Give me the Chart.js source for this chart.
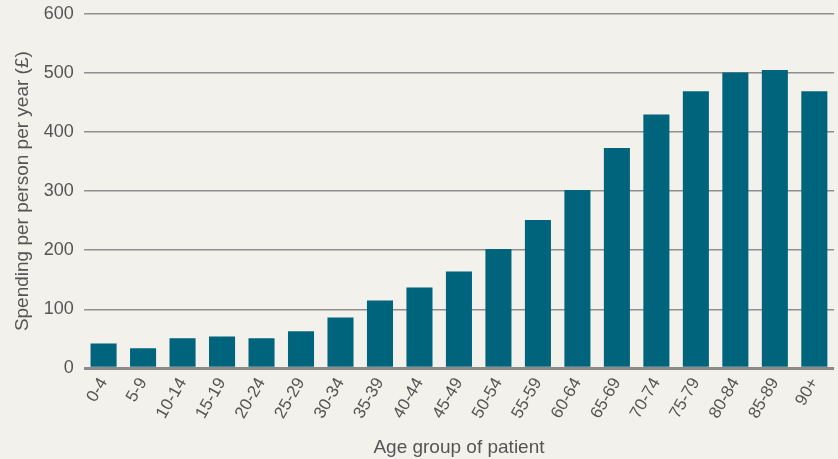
<!DOCTYPE html>
<html>
<head>
<meta charset="utf-8">
<script src="https://cdn.jsdelivr.net/npm/chart.js@4"></script>
<style>
  html, body { margin: 0; padding: 0; background: #f2f1eb; }
  #box { width: 838px; height: 459px; }
</style>
</head>
<body>
<div id="box"><canvas id="lienzo"></canvas></div>
<script>
'use strict';

const grupos = ['0-4', '5-9', '10-14', '15-19', '20-24', '25-29', '30-34', '35-39', '40-44', '45-49',
    '50-54', '55-59', '60-64', '65-69', '70-74', '75-79', '80-84', '85-89', '90+'];
const gasto = [42, 34, 51, 54, 51, 63, 86, 115, 137, 164, 202, 251, 302, 373, 430, 469, 501, 505, 469];
const ticksY = [0, 100, 200, 300, 400, 500, 600];

const fuente = "'Liberation Sans', Arial, sans-serif";
const gris = '#555555';

const ctx = document.getElementById('lienzo');

new Chart(ctx, {
    type: 'bar',
    data: {
        labels: grupos,
        datasets: [{
            label: 'Spending',
            data: gasto,
            backgroundColor: '#00657c',
            borderWidth: 0,
            barPercentage: 0.66,
            categoryPercentage: 1
        }]
    },
    options: {
        responsive: true,
        maintainAspectRatio: false,
        animation: false,
        layout: { padding: { top: 0, right: 0, left: 11, bottom: 0 } },
        plugins: {
            legend: { display: false },
            tooltip: { enabled: false }
        },
        scales: {
            x: {
                grid: { display: false, drawTicks: false },
                border: { display: false },
                ticks: {
                    color: gris,
                    font: { family: fuente, size: 17 },
                    maxRotation: 60,
                    minRotation: 60,
                    padding: 6
                },
                title: {
                    display: true,
                    text: 'Age group of patient',
                    color: gris,
                    font: { family: fuente, size: 19 },
                    padding: { top: 8, bottom: 0 }
                }
            },
            y: {
                min: 0,
                max: 600,
                afterBuildTicks: (eje) => { eje.ticks = ticksY.map(v => ({ value: v })); },
                // la etiqueta 600 queda casi pegada arriba
                afterFit: (eje) => { eje.paddingTop = 14; },
                grid: {
                    drawTicks: false,
                    color: (c) => c.tick && c.tick.value === 0 ? '#8a8a8a' : '#8f8f8f',
                    lineWidth: (c) => c.tick && c.tick.value === 0 ? 3 : 1.5
                },
                border: { display: false },
                ticks: {
                    color: gris,
                    font: { family: fuente, size: 18 },
                    padding: 10
                },
                title: {
                    display: true,
                    text: 'Spending per person per year (£)',
                    color: gris,
                    font: { family: fuente, size: 19 },
                    padding: { top: 0, bottom: 0 }
                }
            }
        }
    }
});
</script>
</body>
</html>
